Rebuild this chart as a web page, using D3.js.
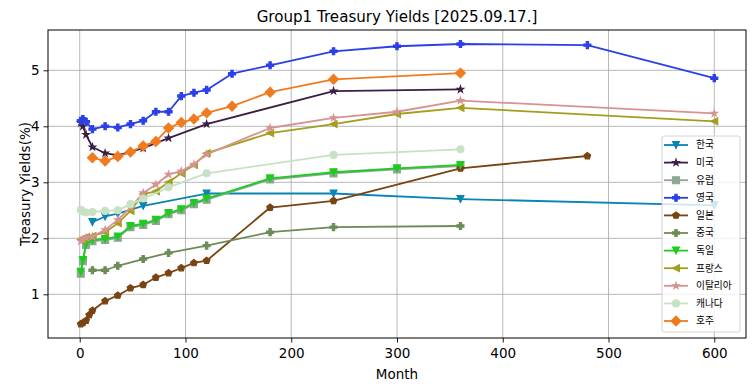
<!DOCTYPE html>
<html><head><meta charset="utf-8">
<script src="https://cdn.jsdelivr.net/npm/d3@7"></script>
<style>
html,body{margin:0;padding:0;background:#fff;}
svg{display:block;font-family:"DejaVu Sans",sans-serif;}
</style></head>
<body><svg id="chart" width="755" height="391"></svg>
<script>
// ---- data ----
const titleText = "Group1 Treasury Yields [2025.09.17.]";
const xLabel = "Month";
const yLabel = "Treasury Yields(%)";
const xTicks = [0, 100, 200, 300, 400, 500, 600];
const yTicks = [1, 2, 3, 4, 5];

const krMonths = [12, 24, 36, 60, 120, 240, 360, 600];
const krYields = [2.29, 2.39, 2.44, 2.58, 2.80, 2.80, 2.70, 2.59];
const usMonths = [1, 3, 6, 12, 24, 36, 60, 84, 120, 240, 360];
const usYields = [4.06, 4.00, 3.85, 3.63, 3.52, 3.48, 3.61, 3.79, 4.04, 4.63, 4.66];
const euMonths = [1, 3, 6, 12, 24, 36, 48, 60, 72, 84, 96, 108, 120, 180, 240, 300, 360];
const euYields = [1.37, 1.59, 1.88, 1.95, 1.97, 2.01, 2.20, 2.24, 2.31, 2.43, 2.50, 2.61, 2.69, 3.05, 3.16, 3.23, 3.29];
const ukMonths = [1, 3, 6, 12, 24, 36, 48, 60, 72, 84, 96, 108, 120, 144, 180, 240, 300, 360, 480, 600];
const ukYields = [4.10, 4.13, 4.08, 3.95, 4.00, 3.98, 4.04, 4.10, 4.26, 4.26, 4.54, 4.60, 4.65, 4.94, 5.09, 5.34, 5.43, 5.47, 5.45, 4.86];
const jpMonths = [1, 3, 6, 9, 12, 24, 36, 48, 60, 72, 84, 96, 108, 120, 180, 240, 360, 480];
const jpYields = [0.47, 0.49, 0.53, 0.63, 0.71, 0.88, 0.98, 1.11, 1.17, 1.30, 1.38, 1.47, 1.56, 1.60, 2.55, 2.67, 3.25, 3.47];
const cnMonths = [12, 24, 36, 60, 84, 120, 180, 240, 360];
const cnYields = [1.43, 1.43, 1.51, 1.63, 1.74, 1.87, 2.11, 2.20, 2.22];
const deMonths = [1, 3, 6, 12, 24, 36, 48, 60, 72, 84, 96, 108, 120, 180, 240, 300, 360];
const deYields = [1.40, 1.61, 1.90, 1.97, 1.99, 2.03, 2.22, 2.26, 2.33, 2.45, 2.52, 2.63, 2.71, 3.07, 3.18, 3.25, 3.31];
const frMonths = [1, 3, 6, 12, 24, 36, 48, 60, 72, 84, 96, 108, 120, 180, 240, 300, 360, 600];
const frYields = [1.98, 2.00, 2.02, 2.04, 2.11, 2.27, 2.49, 2.79, 2.84, 3.00, 3.16, 3.31, 3.52, 3.88, 4.04, 4.22, 4.33, 4.09];
const itMonths = [1, 3, 6, 12, 24, 36, 48, 60, 72, 84, 96, 108, 120, 180, 240, 300, 360, 600];
const itYields = [1.95, 1.98, 2.01, 2.03, 2.15, 2.33, 2.55, 2.81, 2.96, 3.14, 3.20, 3.32, 3.50, 3.97, 4.15, 4.26, 4.46, 4.23];
const caMonths = [1, 3, 6, 12, 24, 36, 48, 60, 84, 120, 240, 360];
const caYields = [2.51, 2.48, 2.46, 2.47, 2.49, 2.50, 2.61, 2.71, 2.91, 3.16, 3.49, 3.59];
const auMonths = [12, 24, 36, 48, 60, 72, 84, 96, 108, 120, 144, 180, 240, 360];
const auYields = [3.44, 3.38, 3.46, 3.54, 3.65, 3.73, 3.97, 4.07, 4.13, 4.24, 4.36, 4.61, 4.84, 4.95];

const names   = ["한국", "미국", "유럽", "영국", "일본", "중국", "독일", "프랑스", "이탈리아", "캐나다", "호주"];
const monthsList = [krMonths, usMonths, euMonths, ukMonths, jpMonths, cnMonths, deMonths, frMonths, itMonths, caMonths, auMonths];
const yieldsList = [krYields, usYields, euYields, ukYields, jpYields, cnYields, deYields, frYields, itYields, caYields, auYields];
const colors  = ["#0a84b0", "#3b1f44", "#8da795", "#2b40e6", "#7a4312", "#6c8c57", "#1ecb1e", "#a39f1c", "#d69392", "#c6e2c3", "#f07b1f"];
const markers = ["triDown", "star", "square", "plus", "pentagon", "plus", "triDown", "triLeft", "star", "circle", "diamond"];

// ---- marker shapes (size = nominal marker size in px) ----
function regPoly(ctx, n, r, rot) {
  for (let i = 0; i < n; i++) {
    const a = rot + i * 2 * Math.PI / n;
    const px = r * Math.sin(a), py = -r * Math.cos(a);
    if (i === 0) ctx.moveTo(px, py); else ctx.lineTo(px, py);
  }
  ctx.closePath();
}
const shapes = {
  triDown: { draw(ctx, s) { const h = s / 2; ctx.moveTo(0, h); ctx.lineTo(-h, -h); ctx.lineTo(h, -h); ctx.closePath(); } },
  triLeft: { draw(ctx, s) { const h = s / 2; ctx.moveTo(-h, 0); ctx.lineTo(h, -h); ctx.lineTo(h, h); ctx.closePath(); } },
  square: { draw(ctx, s) { const h = s / 2; ctx.rect(-h, -h, s, s); } },
  circle: { draw(ctx, s) { ctx.moveTo(s / 2, 0); ctx.arc(0, 0, s / 2, 0, 2 * Math.PI); } },
  diamond: { draw(ctx, s) { const d = s / Math.SQRT2; ctx.moveTo(0, -d); ctx.lineTo(d, 0); ctx.lineTo(0, d); ctx.lineTo(-d, 0); ctx.closePath(); } },
  pentagon: { draw(ctx, s) { regPoly(ctx, 5, s / 2, 0); } },
  star: { draw(ctx, s) {
    const R = s / 2, r = R * 0.381966;
    for (let i = 0; i < 10; i++) {
      const a = i * Math.PI / 5, rr = i % 2 ? r : R;
      const px = rr * Math.sin(a), py = -rr * Math.cos(a);
      if (i === 0) ctx.moveTo(px, py); else ctx.lineTo(px, py);
    }
    ctx.closePath();
  } },
  plus: { draw(ctx, s) {
    const a = s / 2, b = s / 6;
    ctx.moveTo(-b, -a); ctx.lineTo(b, -a); ctx.lineTo(b, -b); ctx.lineTo(a, -b); ctx.lineTo(a, b);
    ctx.lineTo(b, b); ctx.lineTo(b, a); ctx.lineTo(-b, a); ctx.lineTo(-b, b); ctx.lineTo(-a, b);
    ctx.lineTo(-a, -b); ctx.lineTo(-b, -b); ctx.closePath();
  } }
};
const MS = 7;
const FS = 13.5;

// ---- layout ----
const svg = d3.select("#chart");
const M = { left: 48, right: 746, top: 30, bottom: 338 };
const x = d3.scaleLinear().domain([-30, 630]).range([M.left, M.right]);
const y = d3.scaleLinear().domain([0.22, 5.72]).range([M.bottom, M.top]);

// grid
const grid = svg.append("g");
grid.selectAll("line.gx").data(xTicks).join("line")
  .attr("x1", d => x(d)).attr("x2", d => x(d)).attr("y1", M.top).attr("y2", M.bottom)
  .attr("stroke", "#b0b0b0").attr("stroke-width", 0.9);
grid.selectAll("line.gy").data(yTicks).join("line")
  .attr("y1", d => y(d)).attr("y2", d => y(d)).attr("x1", M.left).attr("x2", M.right)
  .attr("stroke", "#b0b0b0").attr("stroke-width", 0.9);

// series
const line = d3.line().x(d => x(d[0])).y(d => y(d[1]));
names.forEach((n, i) => {
  const pts = monthsList[i].map((m, j) => [m, yieldsList[i][j]]);
  const g = svg.append("g");
  g.append("path").attr("d", line(pts)).attr("fill", "none")
    .attr("stroke", colors[i]).attr("stroke-width", 1.8).attr("stroke-linejoin", "round");
  g.selectAll("path.m").data(pts).join("path").attr("class", "m")
    .attr("d", d3.symbol(shapes[markers[i]], MS))
    .attr("transform", d => `translate(${x(d[0])},${y(d[1])})`)
    .attr("fill", colors[i]).attr("stroke", colors[i]).attr("stroke-width", 1.1).attr("stroke-linejoin", "miter");
});

// axes
const xAxis = d3.axisBottom(x).tickValues(xTicks).tickFormat(d3.format("d")).tickSize(4.5).tickPadding(6);
const yAxis = d3.axisLeft(y).tickValues(yTicks).tickFormat(d3.format("d")).tickSize(4.5).tickPadding(4);
const gx = svg.append("g").attr("transform", `translate(0,${M.bottom})`).call(xAxis);
const gy = svg.append("g").attr("transform", `translate(${M.left},0)`).call(yAxis);
[gx, gy].forEach(g => {
  g.select(".domain").remove();
  g.selectAll("text").attr("font-family", "DejaVu Sans").attr("font-size", FS).attr("fill", "#000");
  g.selectAll("line").attr("stroke", "#000").attr("stroke-width", 0.9);
});
svg.append("rect").attr("x", M.left).attr("y", M.top).attr("width", M.right - M.left).attr("height", M.bottom - M.top)
  .attr("fill", "none").attr("stroke", "#000").attr("stroke-width", 1);

// labels
svg.append("text").attr("x", (M.left + M.right) / 2).attr("y", 22).attr("text-anchor", "middle")
  .attr("font-size", 15.1).attr("fill", "#000").text(titleText);
svg.append("text").attr("x", (M.left + M.right) / 2).attr("y", 379).attr("text-anchor", "middle")
  .attr("font-size", FS).attr("fill", "#000").text(xLabel);
svg.append("text").attr("transform", `translate(29.5,${(M.top + M.bottom) / 2}) rotate(-90)`).attr("text-anchor", "middle")
  .attr("font-size", FS).attr("fill", "#000").text(yLabel);

// legend
const lg = svg.append("g");
lg.append("rect").attr("x", 662).attr("y", 136).attr("width", 78).attr("height", 196).attr("rx", 2)
  .attr("fill", "#fff").attr("fill-opacity", 0.8).attr("stroke", "#cfcfcf").attr("stroke-width", 0.9);
names.forEach((n, i) => {
  const yy = 145 + i * 17.6;
  lg.append("line").attr("x1", 664).attr("x2", 688).attr("y1", yy).attr("y2", yy)
    .attr("stroke", colors[i]).attr("stroke-width", 1.8);
  lg.append("path").attr("d", d3.symbol(shapes[markers[i]], MS)()).attr("transform", `translate(676,${yy})`)
    .attr("fill", colors[i]).attr("stroke", colors[i]).attr("stroke-width", 1.1);
  lg.append("text").attr("x", 696).attr("y", yy).attr("dy", "0.36em")
    .attr("font-family", "'Noto Sans CJK KR', sans-serif").attr("font-size", 9.7).attr("fill", "#000").text(n);
});
</script></body></html>
